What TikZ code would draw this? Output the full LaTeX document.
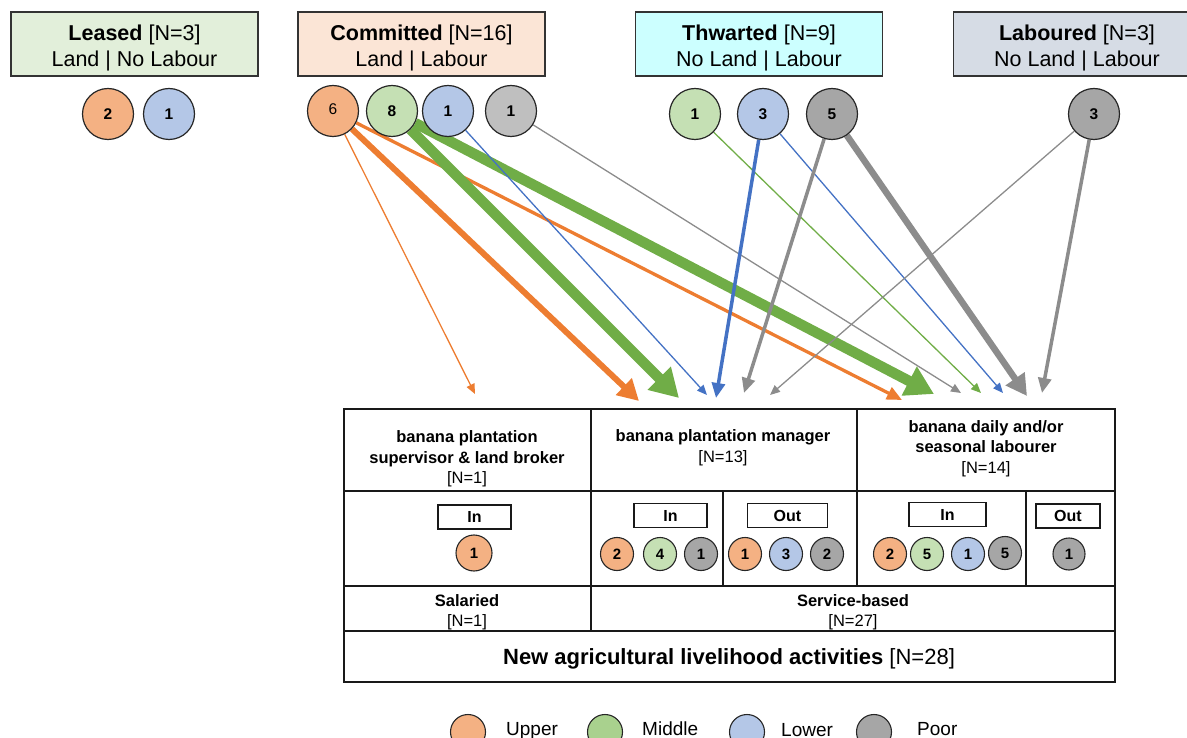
\documentclass[tikz,border=0pt]{standalone}
\usepackage{fontspec}
\setmainfont{Liberation Sans}
\usetikzlibrary{arrows.meta}

% group box fills
\definecolor{gLeased}{HTML}{E2EFDA}
\definecolor{gCommit}{HTML}{FBE5D6}
\definecolor{gThwart}{HTML}{CCFFFF}
\definecolor{gLabour}{HTML}{D6DCE5}
% class circle fills
\definecolor{cUpper}{HTML}{F4B183}
\definecolor{cMiddle}{HTML}{C5E0B4}
\definecolor{cMiddleKey}{HTML}{A9D18E}
\definecolor{cLower}{HTML}{B4C7E7}
\definecolor{cPoor}{HTML}{A6A6A6}
\definecolor{cPoorLight}{HTML}{BFBFBF}
% flow colours
\definecolor{fOrange}{HTML}{ED7D31}
\definecolor{fGreen}{HTML}{70AD47}
\definecolor{fBlue}{HTML}{4472C4}
\definecolor{fGray}{HTML}{8C8C8C}

\pgfdeclarelayer{flows}
\pgfsetlayers{flows,main}

\tikzset{
  grp/.style={draw=black!80, line width=1.3pt, minimum width=247pt, minimum height=64pt,
    inner sep=0pt},
  grptext/.style={align=center, inner sep=0pt, font=\fontsize{21.5}{26}\selectfont},
  dot/.style={circle, draw=black!85, line width=1.2pt, minimum size=51pt, inner sep=0pt,
    font=\fontsize{15.5}{15.5}\selectfont\bfseries},
  sdot/.style={circle, draw=black!85, line width=1.1pt, minimum size=33pt, inner sep=0pt,
    font=\fontsize{15}{15}\selectfont\bfseries},
  keydot/.style={circle, draw=black!85, line width=1.1pt, minimum size=35pt, inner sep=0pt},
  tag/.style={draw=black!90, line width=1.2pt, minimum height=24pt, inner sep=0pt,
    font=\fontsize{16}{16}\selectfont\bfseries},
  head/.style={align=center, inner sep=0pt, font=\fontsize{16.5}{20.5}\selectfont\bfseries},
  keytext/.style={anchor=base west, inner sep=0pt, font=\fontsize{19}{19}\selectfont},
  grid/.style={line width=2pt, black!90},
  fthin/.style={-{Triangle[length=10pt,width=8.5pt]}, line width=1.3pt},
  fmid/.style={-{Triangle[length=15pt,width=13pt]}, line width=3.5pt},
  fthick/.style={-{Triangle[length=21pt,width=22pt]}, line width=6pt},
  fheavy/.style={-{Triangle[length=28pt,width=31pt]}, line width=10.5pt},
}

\begin{document}
\begin{tikzpicture}[x=1pt,y=-1pt]
\useasboundingbox (0,0) rectangle (1187,738);
\clip (0,0) rectangle (1187,738);

% ---- typology boxes ----
\node[grp, fill=gLeased] (leased) at (134.5,44) {};
\node[grp, fill=gCommit] (commit) at (421.5,44) {};
\node[grp, fill=gThwart] (thwart) at (759,44) {};
\node[grp, fill=gLabour] (labour) at (1077,44) {};
\node[grptext] (leasedT) at (134.5,47.5) {\textbf{Leased} [N=3]\\Land | No Labour};
\node[grptext] (commitT) at (421.5,47.5) {\textbf{Committed} [N=16]\\Land | Labour};
\node[grptext] (thwartT) at (759,47.5) {\textbf{Thwarted} [N=9]\\No Land | Labour};
\node[grptext] (labourT) at (1077,47.5) {\textbf{Laboured} [N=3]\\No Land | Labour};

% ---- class counts per group ----
\node[dot, fill=cUpper] (lu) at (108,114) {2};
\node[dot, fill=cLower] (ll) at (169,114) {1};

\node[dot, fill=cUpper] (cu) at (333,111) {\raisebox{3pt}{\mdseries 6}};
\node[dot, fill=cMiddle] (cm) at (392,111) {8};
\node[dot, fill=cLower] (cl) at (448,111) {1};
\node[dot, fill=cPoorLight] (cp) at (511,111) {1};

\node[dot, fill=cMiddle] (tm) at (695,114) {1};
\node[dot, fill=cLower] (tl) at (763,114) {3};
\node[dot, fill=cPoor] (tp) at (832,114) {5};

\node[dot, fill=cPoor] (bp) at (1094,114) {3};

% ---- arrow targets above the table ----
\coordinate (aSup)   at (475,394);
\coordinate (aManO)  at (639,401);
\coordinate (aManG)  at (679,398);
\coordinate (aManB1) at (707,395);
\coordinate (aManB2) at (716,398);
\coordinate (aManP1) at (744,393);
\coordinate (aManP2) at (770,395);
\coordinate (aLabO)  at (902,400);
\coordinate (aLabG1) at (934,394);
\coordinate (aLabP1) at (961,393);
\coordinate (aLabG2) at (981,393);
\coordinate (aLabB)  at (1003,393);
\coordinate (aLabP2) at (1027,396);
\coordinate (aLabP3) at (1042,393);

% ---- flows ----
\begin{pgfonlayer}{flows}
\draw[fthin, fOrange] (cu) -- (aSup);
\draw[fthick, fOrange] (cu) -- (aManO);
\draw[fmid, fOrange, line width=3.3pt] (cu) -- (aLabO);
\draw[fheavy, fGreen] (cm) -- (aManG);
\draw[fheavy, fGreen] (cm) -- (aLabG1);
\draw[fthin, fBlue] (cl) -- (aManB1);
\draw[fthin, fGray] (cp) -- (aLabP1);
\draw[fthin, fGreen] (tm) -- (aLabG2);
\draw[fmid, fBlue] (tl) -- (aManB2);
\draw[fthin, fBlue] (tl) -- (aLabB);
\draw[fmid, fGray] (tp) -- (aManP1);
\draw[fthick, fGray, line width=6.5pt] (tp) -- (aLabP2);
\draw[fthin, fGray] (bp) -- (aManP2);
\draw[fmid, fGray] (bp) -- (aLabP3);
\end{pgfonlayer}

% ---- table of new activities ----
\draw[grid] (344,409) rectangle (1115,682);
\draw[grid] (344,491) -- (1115,491);
\draw[grid] (344,586) -- (1115,586);
\draw[grid] (344,631) -- (1115,631);
\draw[grid] (591,409) -- (591,631);
\draw[grid] (857,409) -- (857,586);
\draw[grid, line width=1.6pt] (723,491) -- (723,586);
\draw[grid, line width=1.6pt] (1026,491) -- (1026,586);

\node[head] (hSup) at (467,459) {banana plantation\\supervisor \& land broker\\{\mdseries [N=1]}};
\node[head] (hMan) at (723,447.5) {banana plantation manager\\{\mdseries [N=13]}};
\node[head] (hLab) at (986,448.5) {banana daily and/or\\seasonal labourer\\{\mdseries [N=14]}};

\node[tag, minimum width=73pt] (supIn) at (474.5,517) {In};
\node[tag, minimum width=73pt] (manIn) at (670.5,515.5) {In};
\node[tag, minimum width=80pt] (manOut) at (787.5,515.5) {Out};
\node[tag, minimum width=77pt] (labIn) at (947.5,514.5) {In};
\node[tag, minimum width=64pt] (labOut) at (1068,516) {Out};

\node[sdot, fill=cUpper, minimum size=36pt] (s1) at (474,553) {1};

\node[sdot, fill=cUpper] (m1) at (617,554) {2};
\node[sdot, fill=cMiddle] (m2) at (660,554) {4};
\node[sdot, fill=cPoor] (m3) at (701,554) {1};

\node[sdot, fill=cUpper] (o1) at (745,554) {1};
\node[sdot, fill=cLower] (o2) at (786,554) {3};
\node[sdot, fill=cPoor] (o3) at (827,554) {2};

\node[sdot, fill=cUpper] (d1) at (890,554) {2};
\node[sdot, fill=cMiddle] (d2) at (927,554) {5};
\node[sdot, fill=cLower] (d3) at (968,554) {1};
\node[sdot, fill=cPoor] (d4) at (1005,553) {5};

\node[sdot, fill=cPoor, minimum size=32pt] (e1) at (1069,554) {1};

\node[head] (sal) at (467,612) {Salaried\\{\mdseries [N=1]}};
\node[head] (svc) at (853,612) {Service-based\\{\mdseries [N=27]}};
\node[inner sep=0pt, font=\fontsize{22}{22}\selectfont] (total) at (729,659)
  {\textbf{New agricultural livelihood activities} [N=28]};

% ---- key ----
\node[keydot, fill=cUpper] (kU) at (468,732) {};
\node[keydot, fill=cMiddleKey] (kM) at (605,732) {};
\node[keydot, fill=cLower] (kL) at (747,732) {};
\node[keydot, fill=cPoor] (kP) at (874,732) {};
\node[keytext] (kUt) at (506,735) {Upper};
\node[keytext] (kMt) at (642,735) {Middle};
\node[keytext] (kLt) at (781,736) {Lower};
\node[keytext] (kPt) at (917,735) {Poor};
\end{tikzpicture}
\end{document}
